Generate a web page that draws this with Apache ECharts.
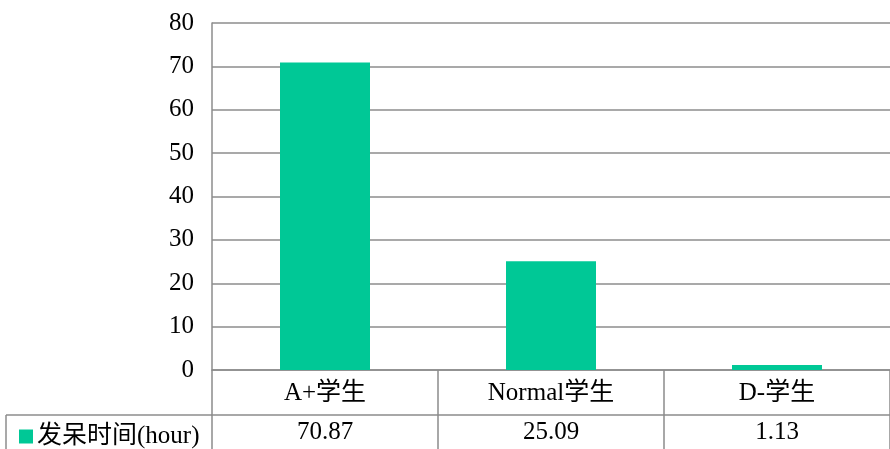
<!DOCTYPE html>
<html>
<head>
<meta charset="utf-8">
<script src="https://cdn.jsdelivr.net/npm/echarts@6/dist/echarts.min.js"></script>
<style>
  html, body { margin: 0; padding: 0; background: #fff; }
  #chart { width: 890px; height: 449px; }
</style>
</head>
<body>
<div id="chart"></div>
<script>
// Student groups and their idle time
const categories = ['A+学生', 'Normal学生', 'D-学生'];
const idleHours = [70.87, 25.09, 1.13];
const seriesName = '发呆时间(hour)';
const yTicks = { min: 0, max: 80, interval: 10 };

const FONT = "'Liberation Serif', 'Noto Sans CJK SC', serif";
const FONT_SIZE = 25;
const GRID_COLOR = '#8c8c8c';
const BAR_COLOR = '#00C896';

const chart = echarts.init(document.getElementById('chart'), null, { renderer: 'canvas' });

chart.setOption({
  animation: false,
  textStyle: { fontFamily: FONT, color: '#000' },
  grid: { left: 212, right: 0, top: 23, bottom: 79, containLabel: false },
  legend: {
    data: [seriesName],
    left: 14,
    top: 419,
    icon: 'rect',
    itemWidth: 14,
    itemHeight: 14,
    itemGap: 6,
    textStyle: { fontFamily: FONT, fontSize: FONT_SIZE, color: '#000', padding: [0, 0, 0, -1] }
  },
  xAxis: [
    {
      type: 'category',
      data: categories,
      position: 'bottom',
      axisLine: { show: true, lineStyle: { color: GRID_COLOR, width: 1.5 } },
      axisTick: { show: true, length: 79, alignWithLabel: false, lineStyle: { color: GRID_COLOR, width: 1.5 } },
      axisLabel: { fontFamily: FONT, fontSize: FONT_SIZE, color: '#000', margin: 11 }
    },
    {
      // data-table row of values beneath the category labels
      type: 'category',
      data: categories,
      position: 'bottom',
      offset: 45,
      axisLine: { show: true, lineStyle: { color: GRID_COLOR, width: 1.5 } },
      axisTick: { show: false },
      axisLabel: {
        fontFamily: FONT, fontSize: FONT_SIZE, color: '#000', margin: 5,
        formatter: (v, i) => idleHours[i].toFixed(2)
      }
    }
  ],
  yAxis: {
    type: 'value',
    min: yTicks.min,
    max: yTicks.max,
    interval: yTicks.interval,
    axisLine: { show: true, lineStyle: { color: GRID_COLOR, width: 1.5 } },
    axisTick: { show: false },
    axisLabel: { fontFamily: FONT, fontSize: FONT_SIZE, color: '#000', margin: 18 },
    splitLine: { show: true, lineStyle: { color: GRID_COLOR, width: 1.5 } }
  },
  series: [
    {
      name: seriesName,
      type: 'bar',
      xAxisIndex: 0,
      data: idleHours,
      barWidth: 90,
      itemStyle: { color: BAR_COLOR }
    }
  ],
  graphic: [
    // legend cell borders of the data table
    { type: 'line', shape: { x1: 6, y1: 415, x2: 212, y2: 415 }, style: { stroke: GRID_COLOR, lineWidth: 1.5 } },
    { type: 'line', shape: { x1: 6, y1: 415, x2: 6, y2: 449 }, style: { stroke: GRID_COLOR, lineWidth: 1.5 } }
  ]
});
</script>
</body>
</html>
